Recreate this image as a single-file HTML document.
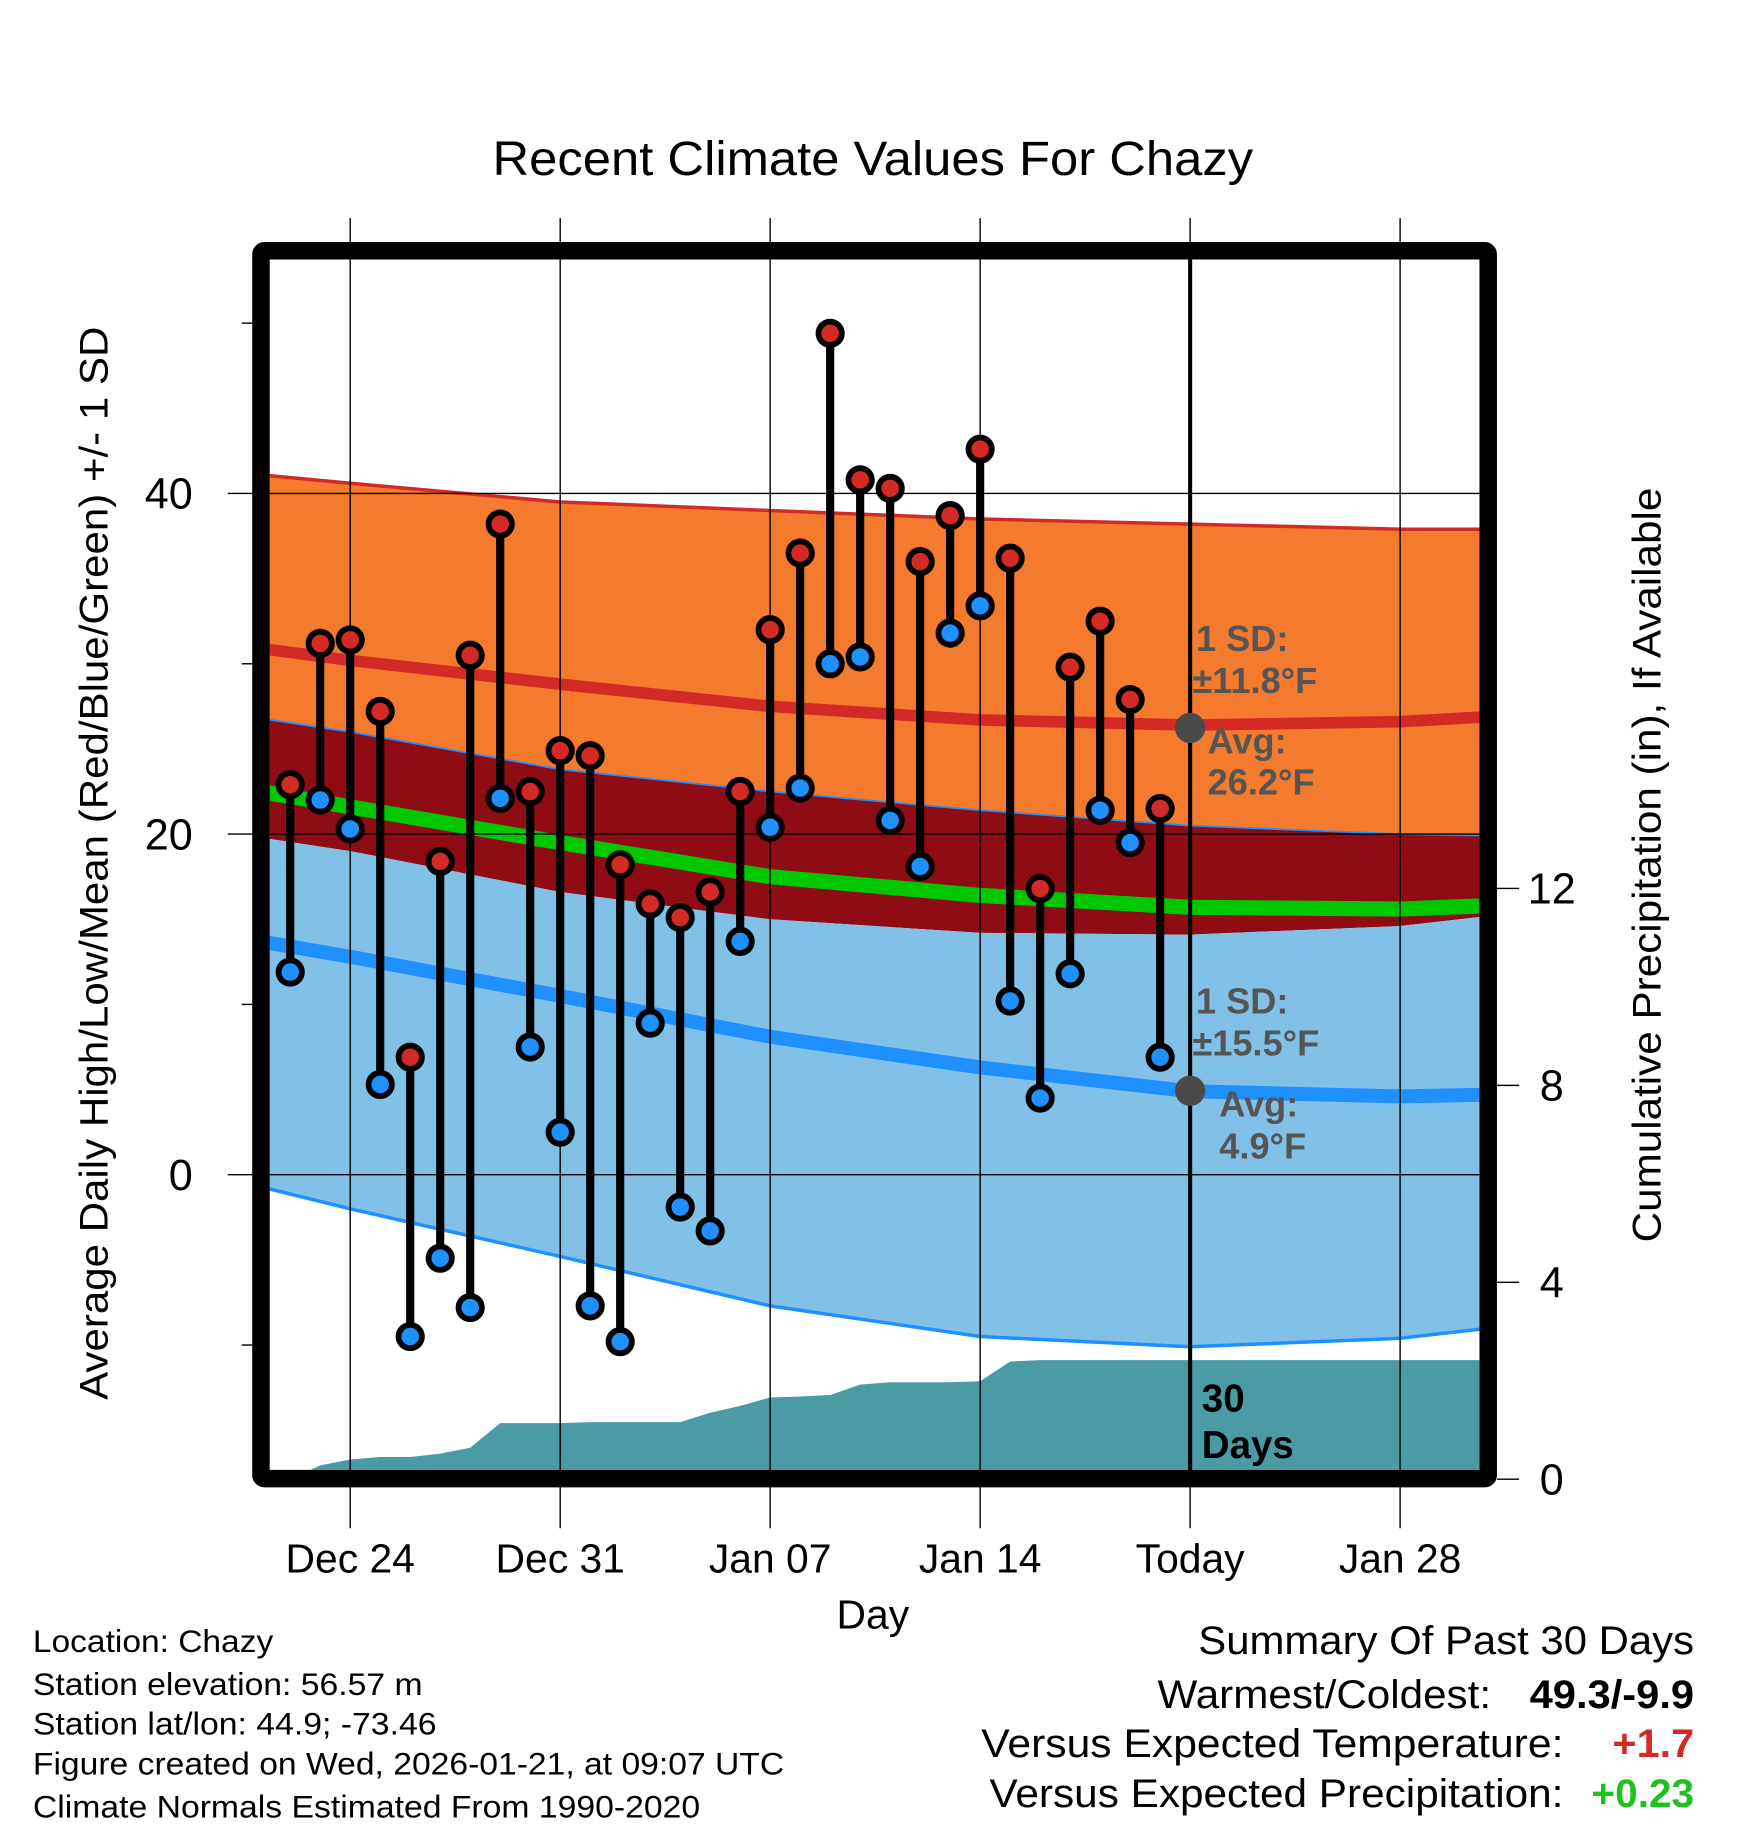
<!DOCTYPE html>
<html><head><meta charset="utf-8"><style>
html,body{margin:0;padding:0;background:#fff}
svg{display:block;font-family:"Liberation Sans",sans-serif}
</style></head><body>
<svg id="chart" width="1748" height="1828" viewBox="0 0 1498 1567" xmlns="http://www.w3.org/2000/svg">
<text x="422" y="150" font-size="41" textLength="652" lengthAdjust="spacingAndGlyphs">Recent Climate Values For Chazy</text>
<g id="plot"></g>
<text x="748" y="1396" font-size="35" text-anchor="middle">Day</text>
<text transform="translate(92,1200) rotate(-90)" font-size="34" textLength="920" lengthAdjust="spacingAndGlyphs">Average Daily High/Low/Mean (Red/Blue/Green) +/- 1 SD</text>
<text transform="translate(1423,1065) rotate(-90)" font-size="34" textLength="647" lengthAdjust="spacingAndGlyphs">Cumulative Precipitation (in), If Available</text>
<g font-size="27" lengthAdjust="spacingAndGlyphs">
<text x="28" y="1416" textLength="206" lengthAdjust="spacingAndGlyphs">Location: Chazy</text>
<text x="28" y="1453" textLength="334" lengthAdjust="spacingAndGlyphs">Station elevation: 56.57 m</text>
<text x="28" y="1487" textLength="346" lengthAdjust="spacingAndGlyphs">Station lat/lon: 44.9; -73.46</text>
<text x="28" y="1521" textLength="644" lengthAdjust="spacingAndGlyphs">Figure created on Wed, 2026-01-21, at 09:07 UTC</text>
<text x="28" y="1558" textLength="572" lengthAdjust="spacingAndGlyphs">Climate Normals Estimated From 1990-2020</text>
</g>
<g font-size="34">
<text x="1027" y="1418" textLength="425" lengthAdjust="spacingAndGlyphs">Summary Of Past 30 Days</text>
<text x="992" y="1464" textLength="286" lengthAdjust="spacingAndGlyphs">Warmest/Coldest:</text>
<text x="1311" y="1464" font-weight="bold" textLength="141" lengthAdjust="spacingAndGlyphs">49.3/-9.9</text>
<text x="841" y="1506" textLength="499" lengthAdjust="spacingAndGlyphs">Versus Expected Temperature:</text>
<text x="1382" y="1506" font-weight="bold" fill="#d42a26" textLength="70" lengthAdjust="spacingAndGlyphs">+1.7</text>
<text x="848" y="1549" textLength="492" lengthAdjust="spacingAndGlyphs">Versus Expected Precipitation:</text>
<text x="1364" y="1549" font-weight="bold" fill="#1fc01f" textLength="88" lengthAdjust="spacingAndGlyphs">+0.23</text>
</g>
</svg>
<script>
// day offsets relative to Dec 24
const normDays=[-3,0,7,14,21,28,35,38];
const highSDtop=[41.1,40.6,39.5,39.0,38.5,38.2,37.9,37.9];
const highMean=[30.9,30.2,28.8,27.5,26.7,26.4,26.6,26.9];
const highSDbot=[26.8,26.0,23.8,22.5,21.4,20.5,20.0,19.9];
const avgMean=[22.5,21.6,19.5,17.5,16.4,15.7,15.6,15.8];
const lowSDtop=[19.8,19.0,16.6,15.0,14.2,14.1,14.6,15.2];
const lowMean=[13.7,12.8,10.5,8.1,6.3,4.9,4.6,4.7];
const lowSDbot=[-0.7,-2.0,-4.8,-7.7,-9.5,-10.1,-9.6,-9.0];
const highs=[22.9,31.2,31.4,27.2,6.9,18.4,30.5,38.2,22.5,24.9,24.6,18.2,15.9,15.1,16.6,22.5,32.0,36.5,49.4,40.8,40.3,36.0,38.7,42.6,36.2,16.8,29.8,32.5,27.9,21.5];
const lows=[11.9,22.0,20.3,5.3,-9.5,-4.9,-7.8,22.1,7.5,2.5,-7.7,-9.8,8.9,-1.9,-3.3,13.7,20.4,22.7,30.0,30.4,20.8,18.1,31.8,33.4,10.2,4.5,11.8,21.4,19.5,6.9];
const precip=[0,0.28,0.40,0.45,0.45,0.52,0.64,1.14,1.14,1.14,1.16,1.16,1.16,1.16,1.35,1.49,1.66,1.68,1.71,1.92,1.97,1.97,1.97,1.99,2.39,2.42,2.42,2.42,2.42,2.42];
const firstDay=-2;
const xTickDays=[0,7,14,21,28,35];
const xTickLabels=["Dec 24","Dec 31","Jan 07","Jan 14","Today","Jan 28"];
const yTicks=[-10,0,10,20,30,40,50];
const yLabels=[0,20,40];
const pTicks=[0,4,8,12];
const todayDay=28;

const NS="http://www.w3.org/2000/svg";
const g=document.getElementById('plot');
const L=231,R=1268,T=222,B=1260;
const X=d=>300+d*25.714;
const Y=v=>1007-v*14.6;
const P=p=>1268-p*42.2;
function el(t,a,parent){const e=document.createElementNS(NS,t);for(const k in a)e.setAttribute(k,a[k]);(parent||g).appendChild(e);return e;}
const clip=el('clipPath',{id:'pc'});el('rect',{x:L,y:T,width:R-L,height:B-T},clip);
const pg=el('g',{'clip-path':'url(#pc)'});
function pts(arr){return normDays.map((d,i)=>X(d)+','+Y(arr[i]));}
function band(top,bot,fill,name){const p=pts(top).concat(pts(bot).reverse()).join(' ');
const e=el('polygon',{points:p,fill:fill},pg);

}
function line(arr,col,w,name){const e=el('polyline',{points:pts(arr).join(' '),fill:'none',stroke:col,'stroke-width':w},pg);

}
band(highSDtop,highSDbot,'#f47a2e','high-sd-band');
band(highSDbot,lowSDtop,'#900c14','mid-band');
band(lowSDtop,lowSDbot,'#82c1e7','low-sd-band');
line(highSDtop,'#d42a26',3,'high-sd-top-line');
line(highSDbot,'#1e90ff',1.5,'high-sd-bottom-line');
line(lowSDbot,'#1e90ff',3,'low-sd-bottom-line');
line(highMean,'#d42a26',10,'mean-high-line');
line(avgMean,'#00c800',13,'mean-avg-line');
line(lowMean,'#1e90ff',12,'mean-low-line');
// precip area
let pp=[X(firstDay)+','+P(0)];
precip.forEach((v,i)=>pp.push(X(firstDay+i)+','+P(v)));
pp.push(R+','+P(precip[precip.length-1]));pp.push(R+','+1300);pp.push(X(firstDay)+',1300');
const pa=el('polygon',{points:pp.join(' '),fill:'#4a9ba4'},pg);


// grid
xTickDays.forEach(d=>{const gl=el('line',{x1:X(d),x2:X(d),y1:187,y2:1310,stroke:'#000','stroke-width':1.2});

});
yLabels.forEach(v=>{const gl=el('line',{x1:L,x2:R,y1:Y(v),y2:Y(v),stroke:'#000','stroke-width':1.2});

});
const td=el('line',{x1:X(todayDay),x2:X(todayDay),y1:T,y2:B,stroke:'#000','stroke-width':3.5});


// stems & dots
highs.forEach((h,i)=>{const x=X(firstDay+i);
const s=el('line',{x1:x,x2:x,y1:Y(h),y2:Y(lows[i]),stroke:'#000','stroke-width':7});


const a=el('circle',{cx:x,cy:Y(h),r:10,fill:'#d42a26',stroke:'#000','stroke-width':5});


const b=el('circle',{cx:x,cy:Y(lows[i]),r:10,fill:'#1e90ff',stroke:'#000','stroke-width':5});

});
// markers
[[624,'today-high-marker'],[935,'today-low-marker']].forEach(m=>{const c=el('circle',{cx:X(todayDay),cy:m[0],r:13,fill:'#4a4a4a'});

});
const ann=[[1025,558,'1 SD:'],[1022,594,'±11.8°F'],[1035,646,'Avg:'],[1035,681,'26.2°F'],[1025,869,'1 SD:'],[1022,905,'±15.5°F'],[1045,957,'Avg:'],[1045,993,'4.9°F']];
ann.forEach(a=>{const t=el('text',{x:a[0],y:a[1],'font-size':31,'font-weight':'bold',fill:'#555'});t.textContent=a[2];

});
[[1030,1210,'30'],[1030,1250,'Days']].forEach(a=>{const t=el('text',{x:a[0],y:a[1],'font-size':33,'font-weight':'bold'});t.textContent=a[2];

});
// frame
const fr=el('rect',{x:223.5,y:215,width:1052,height:1052.5,fill:'none',stroke:'#000','stroke-width':15,rx:3});


// ticks
yTicks.forEach(v=>{const major=yLabels.indexOf(v)>=0;el('line',{x1:major?195:207,x2:216,y1:Y(v),y2:Y(v),stroke:'#000','stroke-width':1.2});});
yLabels.forEach(v=>{const t=el('text',{x:165,y:Y(v)+13,'font-size':37,'text-anchor':'end'});t.textContent=v;

});
pTicks.forEach(v=>{el('line',{x1:1283,x2:1302,y1:P(v),y2:P(v),stroke:'#000','stroke-width':1.2});
const t=el('text',{x:1330,y:P(v)+13,'font-size':37,'text-anchor':'middle'});t.textContent=v;

});
xTickDays.forEach((d,i)=>{const t=el('text',{x:X(d),y:1348,'font-size':35,'text-anchor':'middle'});t.textContent=xTickLabels[i];

});
</script>
</body></html>
